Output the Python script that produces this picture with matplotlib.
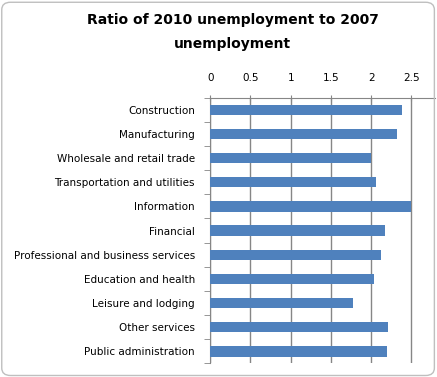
import matplotlib
matplotlib.use("Agg")
import matplotlib.pyplot as plt
from matplotlib.patches import FancyBboxPatch

categories = [
    "Construction",
    "Manufacturing",
    "Wholesale and retail trade",
    "Transportation and utilities",
    "Information",
    "Financial",
    "Professional and business services",
    "Education and health",
    "Leisure and lodging",
    "Other services",
    "Public administration",
]
ratios = [2.38, 2.32, 2.00, 2.06, 2.50, 2.17, 2.12, 2.04, 1.77, 2.21, 2.20]
x_ticks = [0, 0.5, 1, 1.5, 2, 2.5]
x_tick_labels = ["0", "0.5", "1", "1.5", "2", "2.5"]

BAR_COLOR = "#4F81BD"
GRID_COLOR = "#868686"

fig = plt.figure(figsize=(4.37, 3.77), dpi=100)
ax = fig.add_axes([0.481, 0.036, 0.514, 0.705])

y = list(range(len(categories)))
ax.barh(y, ratios, height=0.43, color=BAR_COLOR, zorder=3)

ax.set_ylim(len(categories) - 0.5, -0.5)
ax.set_xlim(0, 2.79)

ax.xaxis.tick_top()
ax.set_xticks(x_ticks)
ax.set_xticklabels(x_tick_labels, fontsize=7.5)
ax.tick_params(axis="x", direction="inout", length=5, color=GRID_COLOR,
               pad=8, labelcolor="black")
ax.grid(axis="x", color=GRID_COLOR, linewidth=1, zorder=0)

ax.set_yticks(y)
ax.set_yticklabels(categories, fontsize=7.5)
ax.tick_params(axis="y", which="major", length=0, pad=11)
ax.set_yticks([i - 0.5 for i in range(len(categories) + 1)], minor=True)
ax.tick_params(axis="y", which="minor", length=4, color=GRID_COLOR,
               direction="out")

for side in ["right", "bottom"]:
    ax.spines[side].set_visible(False)
ax.spines["top"].set_color(GRID_COLOR)
ax.spines["left"].set_color(GRID_COLOR)

fig.text(0.533, 1 - 20 / 377, "Ratio of 2010 unemployment to 2007",
         ha="center", va="center", fontsize=10, fontweight="bold")
fig.text(0.533, 1 - 44 / 377, "unemployment",
         ha="center", va="center", fontsize=10, fontweight="bold")

border = FancyBboxPatch((0.004, 0.004), 0.99, 0.99,
                        boxstyle="round,pad=0,rounding_size=0.02",
                        transform=fig.transFigure, fill=False,
                        edgecolor="#BFBFBF", linewidth=1)
fig.patches.append(border)

fig.savefig("out.png", dpi=100)
